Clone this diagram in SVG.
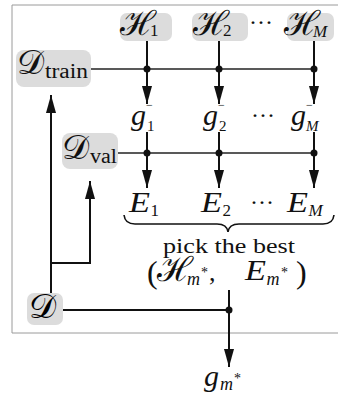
<svg xmlns="http://www.w3.org/2000/svg" width="338" height="394" viewBox="0 0 338 394">
<style>
.box{fill:#dcdcdc;stroke:none}
.r{font-family:"Liberation Serif","DejaVu Serif",serif;font-style:normal;fill:#111}
.cal{font-family:"DejaVu Serif","Liberation Serif",serif;font-style:normal;font-size:34px}
.it{font-style:italic}
.thick{stroke:#111;stroke-width:2;fill:none}
.thin{stroke:#222;stroke-width:1.3;fill:none}
.arr{stroke:#111;stroke-width:2;fill:none;marker-end:url(#ah)}
</style>
<defs>
<marker id="ah" markerUnits="userSpaceOnUse" markerWidth="20" markerHeight="12" refX="18" refY="5" orient="auto">
<path d="M0,0 L18,5 L0,10 z" fill="#111"/>
</marker>
</defs>
<rect width="338" height="394" fill="#fff"/>
<path d="M340,5 H12 V333 H340" fill="none" stroke="#9a9a9a" stroke-width="1"/>

<g id="connectors">
<line class="thin" x1="91" y1="69" x2="314" y2="69"/>
<line class="thin" x1="118" y1="153" x2="314" y2="153"/>
<line class="thick" x1="63" y1="310" x2="229" y2="310"/>
<line class="arr" x1="147" y1="41" x2="147" y2="104"/>
<line class="arr" x1="219" y1="41" x2="219" y2="104"/>
<line class="arr" x1="314" y1="41" x2="314" y2="104"/>
<line class="arr" x1="147" y1="132" x2="147" y2="188"/>
<line class="arr" x1="219" y1="132" x2="219" y2="188"/>
<line class="arr" x1="314" y1="132" x2="314" y2="188"/>
<line class="arr" x1="229" y1="290" x2="229" y2="367"/>
<line class="arr" x1="51" y1="293" x2="51" y2="95"/>
<path class="arr" d="M51,263 H90 V181"/>
<circle cx="147" cy="69" r="3.5" fill="#111"/>
<circle cx="219" cy="69" r="3.5" fill="#111"/>
<circle cx="314" cy="69" r="3.5" fill="#111"/>
<circle cx="147" cy="153" r="3.5" fill="#111"/>
<circle cx="219" cy="153" r="3.5" fill="#111"/>
<circle cx="314" cy="153" r="3.5" fill="#111"/>
<circle cx="229" cy="310" r="3.5" fill="#111"/>
<path d="M124,215 Q125,224 135,224 H217 Q227,224 228,232 Q229,224 239,224 H323 Q333,224 334,215" fill="none" stroke="#111" stroke-width="1.6"/>
</g>

<g id="H1">
<rect class="box" x="120" y="13" width="52" height="28" rx="7"/>
<text class="r"><tspan class="cal" x="120" y="35">ℋ</tspan><tspan x="150" y="36" font-size="17">1</tspan></text>
</g>
<g id="H2">
<rect class="box" x="192" y="13" width="56" height="28" rx="7"/>
<text class="r"><tspan class="cal" x="193" y="35">ℋ</tspan><tspan x="223" y="36" font-size="17">2</tspan></text>
</g>
<text class="r" x="249" y="30" font-size="24">···</text>
<g id="HM">
<rect class="box" x="287" y="13" width="47" height="28" rx="7"/>
<text class="r"><tspan class="cal" x="284" y="35">ℋ</tspan><tspan class="it" x="313" y="37" font-size="17">M</tspan></text>
</g>

<g id="Dtrain">
<rect class="box" x="16" y="50" width="75" height="37" rx="8"/>
<text class="r"><tspan class="cal" x="17" y="74" font-size="30">𝒟</tspan><tspan x="45" y="78" font-size="20" textLength="43" lengthAdjust="spacingAndGlyphs">train</tspan></text>
</g>

<g id="g1">
<text class="r"><tspan class="it" x="131" y="125" font-size="30">g</tspan><tspan x="146" y="109" font-size="12">−</tspan><tspan x="147" y="131" font-size="15">1</tspan></text>
</g>
<g id="g2">
<text class="r"><tspan class="it" x="203" y="125" font-size="30">g</tspan><tspan x="218" y="109" font-size="12">−</tspan><tspan x="219" y="131" font-size="15">2</tspan></text>
</g>
<text class="r" x="251" y="123" font-size="24">···</text>
<g id="gM">
<text class="r"><tspan class="it" x="291" y="125" font-size="30">g</tspan><tspan x="306" y="109" font-size="12">−</tspan><tspan class="it" x="306" y="131" font-size="15">M</tspan></text>
</g>

<g id="Dval">
<rect class="box" x="62" y="133" width="56" height="36" rx="8"/>
<text class="r"><tspan class="cal" x="62" y="159" font-size="30">𝒟</tspan><tspan x="90" y="163" font-size="20" textLength="27" lengthAdjust="spacingAndGlyphs">val</tspan></text>
</g>

<g id="E1">
<text class="r"><tspan class="it" x="129" y="212" font-size="30" textLength="21" lengthAdjust="spacingAndGlyphs">E</tspan><tspan x="150.5" y="216" font-size="17">1</tspan></text>
</g>
<g id="E2">
<text class="r"><tspan class="it" x="201" y="212" font-size="30" textLength="21" lengthAdjust="spacingAndGlyphs">E</tspan><tspan x="222.5" y="216" font-size="17">2</tspan></text>
</g>
<text class="r" x="250" y="210" font-size="24">···</text>
<g id="EM">
<text class="r"><tspan class="it" x="287" y="212" font-size="30" textLength="21" lengthAdjust="spacingAndGlyphs">E</tspan><tspan class="it" x="308.5" y="216" font-size="17">M</tspan></text>
</g>

<g id="pick">
<text class="r" x="163" y="253" font-size="20" textLength="132" lengthAdjust="spacingAndGlyphs">pick the best</text>
<text class="r"><tspan x="147" y="283" font-size="32">(</tspan><tspan class="cal" x="157" y="281">ℋ</tspan><tspan class="it" x="187" y="285" font-size="18">m</tspan><tspan x="201" y="277" font-size="14">*</tspan><tspan x="209" y="281" font-size="26">,</tspan><tspan class="it" x="245" y="280" font-size="30" textLength="21" lengthAdjust="spacingAndGlyphs">E</tspan><tspan class="it" x="266.5" y="285" font-size="18">m</tspan><tspan x="281" y="277" font-size="14">*</tspan><tspan x="296" y="283" font-size="32">)</tspan></text>
</g>

<g id="D">
<rect class="box" x="27" y="293" width="36" height="32" rx="7"/>
<text class="cal" x="29" y="318" font-size="30">𝒟</text>
</g>

<g id="gm">
<text class="r"><tspan class="it" x="204" y="386" font-size="30">g</tspan><tspan class="it" x="220" y="390" font-size="18">m</tspan><tspan x="234" y="383" font-size="14">*</tspan></text>
</g>
</svg>
